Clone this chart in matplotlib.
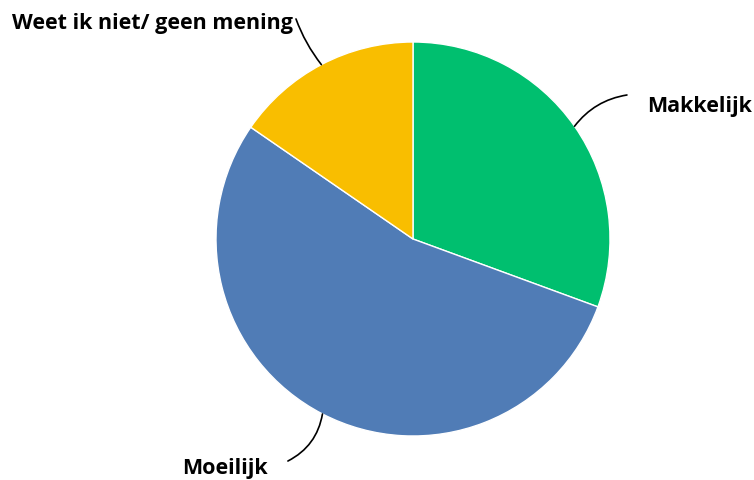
import numpy as np
import matplotlib.pyplot as plt

# Data
labels = ['Makkelijk', 'Moeilijk', 'Weet ik niet/ geen mening']
values = [30.6, 54.0, 15.4]
colors = ['#00BF6F', '#507CB6', '#F9BE00']

# leader line end points and label anchors (axes data units, pie radius = 1)
line_ends = [(1.086, 0.731), (-0.635, -1.127), (-0.594, 1.117)]
text_pos = [(1.190, 0.680), (-0.736, -1.160), (-0.609, 1.098)]
text_ha = ['left', 'right', 'right']
curve_rad = [0.2, 0.25, 0.08]

W, H = 754, 481
cx, cy, r = 413, 240, 197

fig = plt.figure(figsize=(W / 100, H / 100), dpi=100)
ax = fig.add_axes([(cx - r) / W, (H - cy - r) / H, 2 * r / W, 2 * r / H])

wedges, _ = ax.pie(values, colors=colors, startangle=90, counterclock=False,
                   radius=1, wedgeprops=dict(edgecolor='white', linewidth=1))
ax.set_xlim(-1, 1)
ax.set_ylim(-1, 1)
ax.set_aspect('equal')
ax.axis('off')

for w, lab, end, tp, ha, rad in zip(wedges, labels, line_ends, text_pos, text_ha, curve_rad):
    mid = np.deg2rad((w.theta1 + w.theta2) / 2)
    edge = (np.cos(mid), np.sin(mid))
    ax.annotate('', xy=edge, xytext=end, annotation_clip=False,
                arrowprops=dict(arrowstyle='-', color='black', lw=1.2,
                                shrinkA=0, shrinkB=0,
                                connectionstyle=f'arc3,rad={rad}'))
    ax.text(tp[0], tp[1], lab, ha=ha, va='center', fontsize=15.5,
            fontweight='bold', family='Open Sans', color='black', clip_on=False)

fig.savefig('out.png', dpi=100)
